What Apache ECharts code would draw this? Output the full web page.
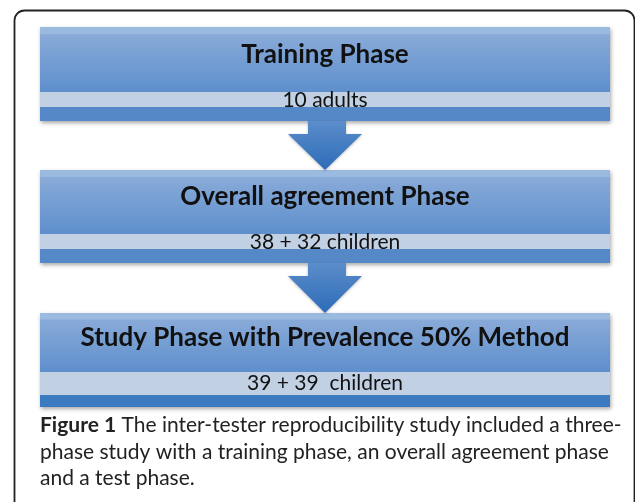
<!DOCTYPE html>
<html>
<head>
<meta charset="utf-8">
<script src="https://cdn.jsdelivr.net/npm/echarts@6/dist/echarts.min.js"></script>
<style>
  html, body { margin: 0; padding: 0; background: #fff; }
  #chart { width: 635px; height: 502px; }
</style>
</head>
<body>
<div id="chart"></div>
<script>
// phases of the flow chart
const phaseTitles = ['Training Phase', 'Overall agreement Phase', 'Study Phase with Prevalence 50% Method']
const phaseCounts = ['10 adults', '38 + 32 children', '39 + 39  children']
const captionBold = 'Figure 1'
const captionLines = [
  ' The inter-tester reproducibility study included a three-',
  'phase study with a training phase, an overall agreement phase',
  'and a test phase.'
]

// layout of each box: top, band top, band bottom, box bottom
const boxes = [
  [27, 92, 107, 121],
  [170, 234, 249, 263],
  [313, 372, 395, 407]
]
const boxLeft = 40, boxRight = 610, cx = 325
const FONT = 'Lato, "Open Sans", sans-serif'

const chart = echarts.init(document.getElementById('chart'))
const g = []

// outer frame
g.push({
  type: 'rect', shape: { x: 14.5, y: 10.5, width: 620, height: 520, r: 10 },
  style: { fill: 'none', stroke: '#222', lineWidth: 1.8 }, z: 1
})

boxes.forEach((b, i) => {
  const [top, bandTop, bandBot, bot] = b
  const w = boxRight - boxLeft
  // whole box with shadow
  g.push({
    type: 'rect', shape: { x: boxLeft, y: top, width: w, height: bot - top },
    style: {
      fill: i === 2 ? '#3d7bc0' : '#5588c6',
      shadowBlur: 4, shadowOffsetY: 2, shadowOffsetX: 1, shadowColor: 'rgba(0,0,0,0.35)'
    }, z: 2
  })
  // title gradient area
  g.push({
    type: 'rect', shape: { x: boxLeft, y: top, width: w, height: bandTop - top },
    style: {
      fill: new echarts.graphic.LinearGradient(0, 0, 0, 1, [
        { offset: 0, color: '#9bbae0' },
        { offset: 0.1, color: '#9bbae0' },
        { offset: 0.12, color: '#88aad8' },
        { offset: 1, color: '#5e8fcc' }
      ])
    }, z: 3
  })
  // light band
  g.push({
    type: 'rect', shape: { x: boxLeft, y: bandTop, width: w, height: bandBot - bandTop },
    style: { fill: '#c1d1e3' }, z: 3
  })
  g.push({
    type: 'text', x: cx, y: (top + bandTop) / 2 - 5,
    style: {
      text: phaseTitles[i], fill: '#111', font: 'bold 26px ' + FONT,
      align: 'center', verticalAlign: 'middle'
    }, z: 5
  })
  g.push({
    type: 'text', x: cx, y: i === 2 ? (bandTop + bandBot) / 2 : bandBot - 7,
    style: {
      text: phaseCounts[i], fill: '#111', font: '21px ' + FONT,
      align: 'center', verticalAlign: 'middle'
    }, z: 5
  })
})

// arrows between boxes
for (let i = 0; i < 2; i++) {
  const y0 = boxes[i][3], y1 = boxes[i + 1][0]
  const neck = y0 + 13
  g.push({
    type: 'polygon',
    shape: { points: [[308, y0], [346, y0], [346, neck], [362, neck], [cx, y1], [288, neck], [308, neck]] },
    style: {
      fill: new echarts.graphic.LinearGradient(0, 0, 0, 1, [
        { offset: 0, color: '#5b8dca' },
        { offset: 1, color: '#2d6cb8' }
      ]),
      shadowBlur: 3, shadowOffsetY: 1, shadowColor: 'rgba(0,0,0,0.25)'
    }, z: 4
  })
}

// caption
g.push({
  type: 'text', x: 40, y: 412,
  style: {
    text: '{b|' + captionBold + '}' + captionLines[0] + '\n' + captionLines[1] + '\n' + captionLines[2],
    font: '21px ' + FONT, fill: '#222', lineHeight: 26.5, verticalAlign: 'top',
    rich: { b: { font: 'bold 21px ' + FONT, fill: '#222', lineHeight: 26.5 } }
  }, z: 5
})

chart.setOption({ animation: false, graphic: g })
</script>
</body>
</html>
